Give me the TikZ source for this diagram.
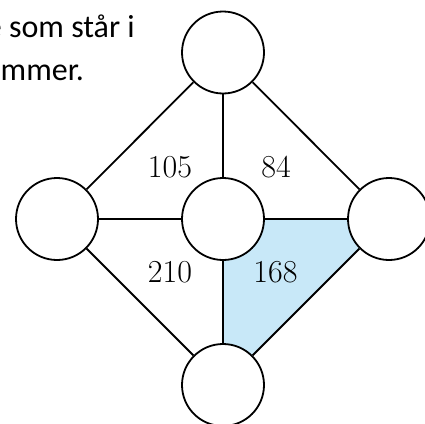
\documentclass[tikz,border=0pt]{standalone}
\usepackage{fontspec}
\newfontfamily\bodyfont{Carlito}
\definecolor{paleblue}{RGB}{200,232,248}
\tikzset{
  vertex/.style={circle, draw=black, fill=white, line width=1.8pt, minimum size=82pt, inner sep=0pt},
  edge/.style={line width=1.8pt, draw=black},
  weight/.style={font=\fontsize{32}{38}\selectfont, inner sep=0pt},
  prose/.style={font=\bodyfont\fontsize{32}{39}\selectfont, inner sep=0pt}
}
\begin{document}
\begin{tikzpicture}[x=1pt, y=-1pt]
  \useasboundingbox (0,0) rectangle (425,423);
  \clip (0,0) rectangle (425,423);

  % text fragment at the top left
  \node[prose, anchor=base east] (line1) at (135,37.5) {e som står i};
  \node[prose, anchor=base east] (line2) at (84,80) {mmer.};

  % vertex positions
  \coordinate (pt) at (223,52.5);
  \coordinate (pl) at (57,219);
  \coordinate (pc) at (223,219);
  \coordinate (pr) at (389,219);
  \coordinate (pb) at (223,385);

  % shaded face
  \fill[paleblue] (pc) -- (pr) -- (pb) -- cycle;

  % vertices
  \node[vertex] (t) at (pt) {};
  \node[vertex] (l) at (pl) {};
  \node[vertex] (c) at (pc) {};
  \node[vertex] (r) at (pr) {};
  \node[vertex] (b) at (pb) {};

  % edges
  \draw[edge] (t) -- (l);
  \draw[edge] (t) -- (c);
  \draw[edge] (t) -- (r);
  \draw[edge] (l) -- (c);
  \draw[edge] (c) -- (r);
  \draw[edge] (l) -- (b);
  \draw[edge] (c) -- (b);
  \draw[edge] (r) -- (b);

  % face numbers
  \node[weight] (w105) at (170,167) {105};
  \node[weight] (w84)  at (276,167) {84};
  \node[weight] (w210) at (170,272) {210};
  \node[weight] (w168) at (275.5,272) {168};
\end{tikzpicture}
\end{document}
